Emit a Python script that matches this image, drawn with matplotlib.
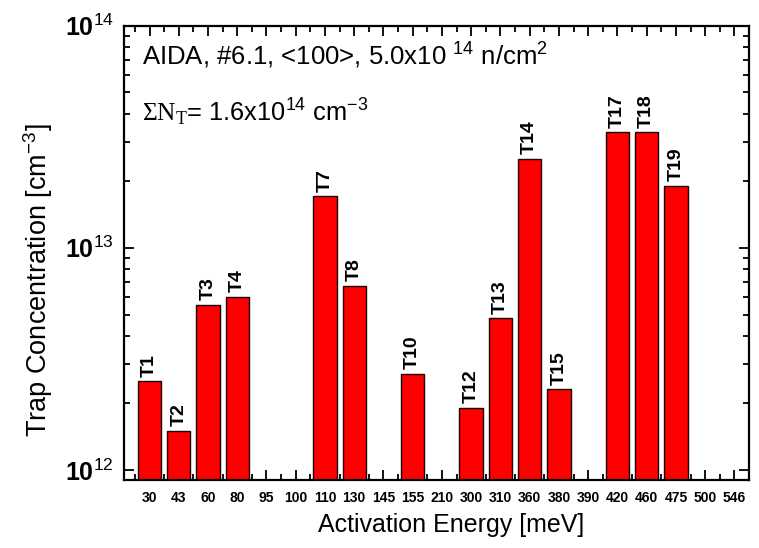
import matplotlib
matplotlib.use("Agg")
import matplotlib.pyplot as plt
from matplotlib.ticker import FixedLocator, NullFormatter, LogLocator

plt.rcParams['font.family'] = ['Liberation Sans', 'DejaVu Sans']
plt.rcParams['mathtext.fontset'] = 'custom'
plt.rcParams['mathtext.rm'] = 'Liberation Serif'
plt.rcParams['mathtext.sf'] = 'Liberation Sans'
plt.rcParams['mathtext.bf'] = 'Liberation Sans:bold'
plt.rcParams['mathtext.it'] = 'Liberation Sans:italic'
plt.rcParams['mathtext.default'] = 'regular'

# ---- data ----
categories = ['30', '43', '60', '80', '95', '100', '110', '130', '145', '155', '210',
              '300', '310', '360', '380', '390', '420', '460', '475', '500', '546']
trap_cats = ['30', '43', '60', '80', '110', '130', '155', '300', '310', '360', '380',
             '420', '460', '475']
trap_labels = ['T1', 'T2', 'T3', 'T4', 'T7', 'T8', 'T10', 'T12', 'T13', 'T14', 'T15',
               'T17', 'T18', 'T19']
trap_conc = [2.5e12, 1.5e12, 5.5e12, 6.0e12, 1.7e13, 6.7e12, 2.7e12, 1.9e12, 4.8e12,
             2.5e13, 2.3e12, 3.3e13, 3.3e13, 1.9e13]
ytick_vals = [1e12, 1e13, 1e14]
ytick_labels = [r'$\mathbf{10}^{12}$', r'$\mathbf{10}^{13}$', r'$\mathbf{10}^{14}$']

fig = plt.figure(figsize=(7.59, 5.48), dpi=100)
ax = fig.add_axes([123.5/759, 1-480/548, (749-123.5)/759, (480-25.5)/548])

ymin = 0.9e12
xpos = [categories.index(c) for c in trap_cats]
heights = [v - ymin for v in trap_conc]
ax.bar(xpos, heights, bottom=ymin, width=0.8, color='#ff0000', edgecolor='#1a0000',
       linewidth=1.0, zorder=2)
ax.set_yscale('log')
ax.set_ylim(ymin, 1e14)
ax.set_xlim(-0.89, 20.5)

for x, v, lab in zip(xpos, trap_conc, trap_labels):
    ax.annotate(lab, (x, v), xytext=(0, 3.5), textcoords='offset points',
                rotation=90, ha='center', va='bottom', fontsize=14, fontweight='bold')

# x ticks
ax.set_xticks(range(len(categories)))
ax.set_xticklabels(categories, fontsize=10, fontweight='bold')
ax.xaxis.set_minor_locator(FixedLocator([i - 0.5 for i in range(len(categories) + 1)]))
# y ticks
ax.set_yticks(ytick_vals)
ax.set_yticklabels(ytick_labels, fontsize=18)
ax.yaxis.set_minor_locator(LogLocator(base=10, subs=range(2, 10)))
ax.yaxis.set_minor_formatter(NullFormatter())

ax.tick_params(which='both', direction='in', top=True, right=True, width=1.3)
ax.tick_params(which='major', length=7)
ax.tick_params(which='minor', length=4)
ax.tick_params(axis='x', which='major', pad=8)
ax.tick_params(axis='y', which='major', pad=7)
for s in ax.spines.values():
    s.set_linewidth(1.6)

ax.set_xlabel('Activation Energy [meV]', fontsize=18, labelpad=6)
ax.xaxis.label.set_x(0.524)
ax.set_ylabel(r'Trap Concentration [cm$^{-3}$]', fontsize=19.5, labelpad=7)
ax.yaxis.label.set_y(0.44)

ax.text(0.03, 0.933, r'AIDA, #6.1, <100>, 5.0x10 $^{14}$ n/cm$^{2}$', transform=ax.transAxes,
        fontsize=18.5, va='center', ha='left')
ax.text(0.03, 0.81, r'$\mathrm{\Sigma N_T}$= 1.6x10$^{14}$ cm$^{-3}$', transform=ax.transAxes,
        fontsize=18.3, va='center', ha='left')

fig.savefig('out.png', dpi=100)
